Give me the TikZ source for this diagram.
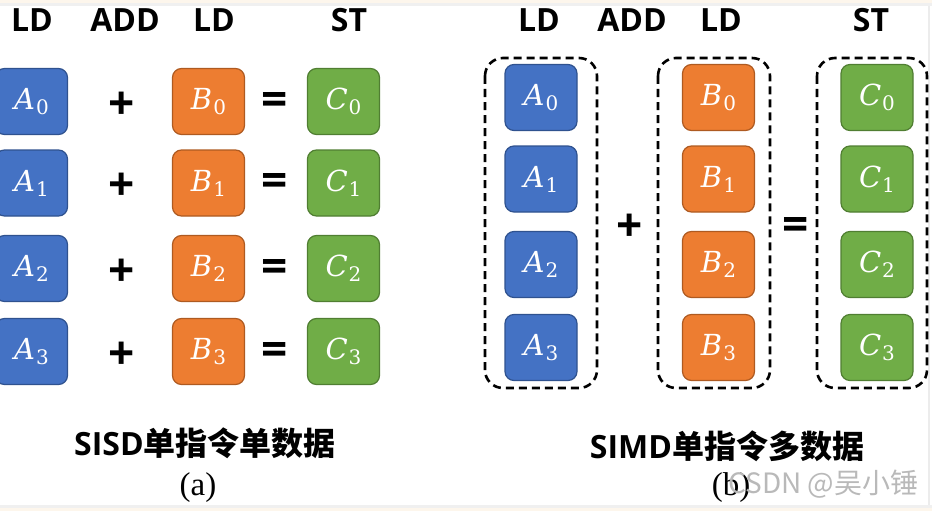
\documentclass[tikz,border=0pt]{standalone}
\usepackage{fontspec}
\setmainfont{Liberation Serif}
\newfontfamily\cjk{Noto Sans CJK SC}
\newfontfamily\osans{Open Sans}
\newfontfamily\dvs{DejaVu Serif}
\newcommand\cellsym[2]{{\dvs\itshape\fontsize{29}{30}\selectfont #1}\kern1pt\raisebox{-5pt}{\dvs\fontsize{20}{21}\selectfont #2}}
\definecolor{blu}{HTML}{4472C4}
\definecolor{bluD}{HTML}{2F528F}
\definecolor{org}{HTML}{ED7D31}
\definecolor{orgD}{HTML}{AE5A21}
\definecolor{grn}{HTML}{70AD47}
\definecolor{grnD}{HTML}{507E32}
\definecolor{beige}{HTML}{FDF6EC}
\begin{document}
\begin{tikzpicture}[x=1pt,y=-1pt,
  cell/.style={rounded corners=9pt, minimum width=72pt, minimum height=66pt, line width=1.2pt, text=white, inner sep=0pt},
  ablk/.style={cell, fill=blu, draw=bluD},
  bblk/.style={cell, fill=org, draw=orgD},
  cblk/.style={cell, fill=grn, draw=grnD},
  hdr/.style={font=\osans\bfseries\fontsize{32}{34}\selectfont, inner sep=0pt},
  opr/.style={font=\osans\bfseries\fontsize{46}{48}\selectfont, inner sep=0pt},
  capt/.style={font=\bfseries\fontsize{32}{34}\selectfont, inner sep=0pt},
  sub/.style={font=\fontsize{33}{36}\selectfont, inner sep=0pt},
  grp/.style={draw, line width=2.6pt, rounded corners=18pt, dash pattern=on 8pt off 5pt},
  wm/.style={font=\cjk\fontsize{28}{30}\selectfont, text=gray!55, inner sep=0pt}]
\useasboundingbox (0,0) rectangle (932,511);
% frame
\fill[beige] (0,0) rectangle (932,3);
\fill[gray!12] (0,3) rectangle (932,6);
\fill[beige] (0,508) rectangle (932,511);
\fill[gray!12] (0,505) rectangle (932,508);
\fill[gray!15] (928,6) rectangle (930,505);
% ---------- left panel ----------
\node[hdr] (hl1) at (32,20) {LD};
\node[hdr] (hl2) at (125,20) {ADD};
\node[hdr] (hl3) at (214,20) {LD};
\node[hdr] (hl4) at (349,20) {ST};
\foreach \i/\y in {0/101.5,1/183,2/268.5,3/351.5}{
  \node[ablk] (la\i) at (31.5,\y) {\cellsym{A}{\i}};
  \node[bblk] (lb\i) at (208.5,\y) {\cellsym{B}{\i}};
  \node[cblk] (lc\i) at (343.5,\y) {\cellsym{C}{\i}};
  \node[opr] (lp\i) at (122,\y+4) {+};
  \node[opr] (le\i) at (274.5,\y+2) {=};
}
\node[capt] (cl) at (205,443) {{\osans SISD}{\cjk 单指令单数据}};
\node[sub] (sa) at (198,488) {(a)};
% ---------- right panel ----------
\node[hdr] (hr1) at (539,20) {LD};
\node[hdr] (hr2) at (632,20) {ADD};
\node[hdr] (hr3) at (721,20) {LD};
\node[hdr] (hr4) at (871,20) {ST};
\draw[grp] (485,58) rectangle (597,388);
\draw[grp] (658,58) rectangle (770,388);
\draw[grp] (817,58) rectangle (927,388);
\foreach \i/\y in {0/97.5,1/179,2/264.5,3/347.5}{
  \node[ablk] (ra\i) at (541,\y) {\cellsym{A}{\i}};
  \node[bblk] (rb\i) at (718.5,\y) {\cellsym{B}{\i}};
  \node[cblk] (rc\i) at (877,\y) {\cellsym{C}{\i}};
}
\node[opr] (rp) at (630,228) {+};
\node[opr] (re) at (796,229) {=};
\node[capt] (cr) at (727,446) {{\osans SIMD}{\cjk 单指令多数据}};
\node[sub] (sb) at (731,488) {(b)};
\node[wm, anchor=west] (wmk) at (728,484) {CSDN @吴小锤};
\end{tikzpicture}
\end{document}
